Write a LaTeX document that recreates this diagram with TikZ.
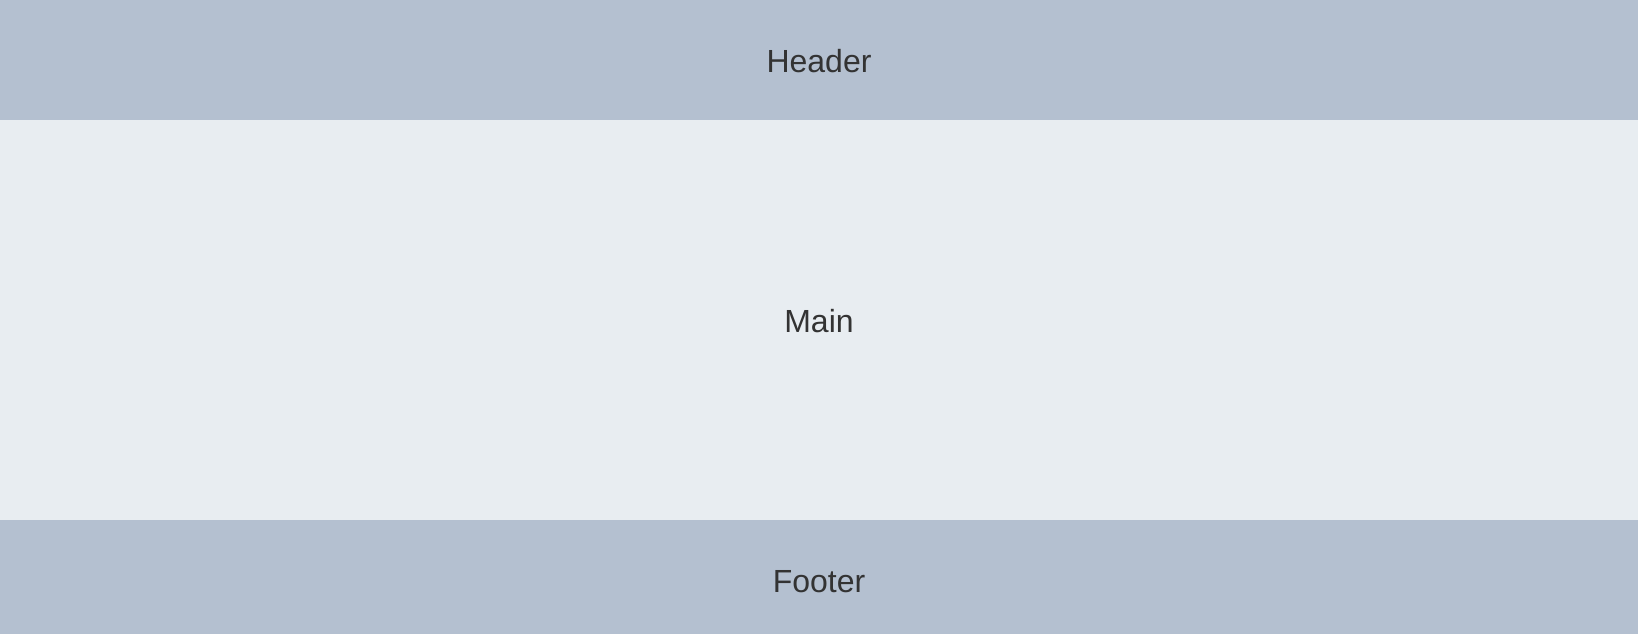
\documentclass[tikz,border=0pt]{standalone}
\usepackage{fontspec}
\setmainfont{Liberation Sans}
\definecolor{bandcol}{HTML}{B4C0D0}
\definecolor{maincol}{HTML}{E8EDF1}
\definecolor{txtcol}{HTML}{333333}
\tikzset{
  band/.style={fill=bandcol, draw=none, inner sep=0pt, minimum width=1638pt, text=txtcol,
    font=\fontsize{32}{38}\selectfont, text height=24pt, text depth=0pt},
  mainband/.style={band, fill=maincol}
}
\begin{document}
\begin{tikzpicture}[x=1pt,y=-1pt]
\useasboundingbox (0,0) rectangle (1638,634);
\node[band, minimum height=120pt] (header) at (819,60) {Header};
\node[mainband, minimum height=400pt] (main) at (819,320) {Main};
\node[band, minimum height=114pt, text height=30pt] (footer) at (819,577) {Footer};
\end{tikzpicture}
\end{document}
